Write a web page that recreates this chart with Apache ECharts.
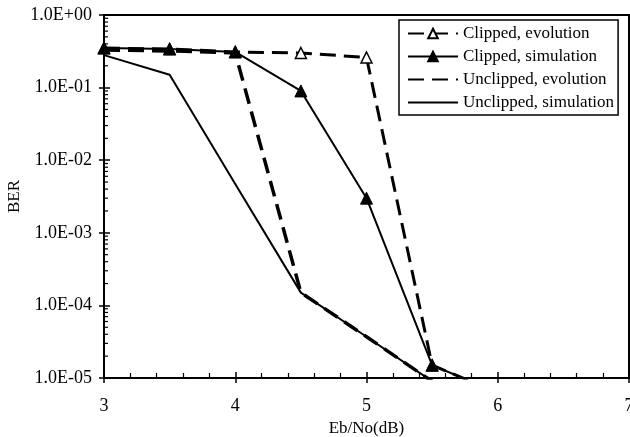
<!DOCTYPE html>
<html>
<head>
<meta charset="utf-8">
<script src="https://cdn.jsdelivr.net/npm/echarts@6/dist/echarts.min.js"></script>
<style>
  html, body { margin: 0; padding: 0; background: #fff; }
  #chart { width: 630px; height: 437px; }
</style>
</head>
<body>
<div id="chart"></div>
<script>
// Eb/No values (dB)
const ebno = [3, 3.5, 4, 4.5, 5, 5.5, 6];

// BER
const clippedEvolution   = [0.35, 0.34, 0.31, 0.30, 0.26, 1.5e-5, 6.3e-6];
const clippedSimulation  = [0.35, 0.34, 0.31, 0.09, 3.0e-3, 1.5e-5, 6.3e-6];
const unclippedEvolution = [0.33, 0.32, 0.30, 1.5e-4, 3.7e-5, 9e-6];
const unclippedSimulation = [0.28, 0.15, 4.7e-3, 1.5e-4, 3.7e-5, 9e-6];

const names = ['Clipped, evolution', 'Clipped, simulation', 'Unclipped, evolution', 'Unclipped, simulation'];

// minor log ticks on the BER axis
const decades = [-5, -4, -3, -2, -1];
const mantissas = [2, 3, 4, 5, 6, 7, 8, 9];

const font = 'Liberation Serif';

function pairs(ys) {
  return ys.map((y, i) => [ebno[i], y]);
}

function sciLabel(v) {
  const e = Math.round(Math.log10(v));
  const sign = e < 0 ? '-' : '+';
  const a = Math.abs(e);
  return '1.0E' + sign + (a < 10 ? '0' + a : a);
}

const minorVals = [];
decades.forEach(d => mantissas.forEach(m => minorVals.push([3, m * Math.pow(10, d)])));

const chart = echarts.init(document.getElementById('chart'));

const option = {
  animation: false,
  backgroundColor: '#fff',
  textStyle: { fontFamily: font, color: '#000' },
  grid: {
    left: 104, right: 1, top: 15, bottom: 59,
    outerBoundsMode: 'none', containLabel: false,
    show: true, borderColor: '#000', borderWidth: 2, backgroundColor: 'transparent'
  },
  legend: {
    data: names,
    orient: 'vertical',
    left: 399, top: 20,
    itemWidth: 50, itemHeight: 12, itemGap: 6,
    padding: [5, 4, 4, 8],
    borderColor: '#000', borderWidth: 1.5,
    backgroundColor: '#fff',
    textStyle: { fontFamily: font, fontSize: 17, color: '#000' }
  },
  xAxis: [{
    type: 'value', min: 3, max: 7, interval: 1,
    name: 'Eb/No(dB)', nameLocation: 'middle', nameGap: 41,
    nameTextStyle: { fontFamily: font, fontSize: 17, color: '#000' },
    axisLine: { lineStyle: { color: '#000', width: 2 } },
    axisTick: { inside: true, length: 6, lineStyle: { color: '#000', width: 1.5 } },
    minorTick: { show: true, splitNumber: 5, length: 5, lineStyle: { color: '#000', width: 1.2 } },
    axisLabel: { fontFamily: font, fontSize: 18, color: '#000', margin: 19 },
    splitLine: { show: false }
  }, {
    type: 'value', min: 3, max: 7, interval: 1, position: 'bottom',
    axisLine: { show: false },
    axisTick: { inside: false, length: 5, lineStyle: { color: '#000', width: 1.5 } },
    axisLabel: { show: false },
    splitLine: { show: false }
  }],
  yAxis: [{
    type: 'log', logBase: 10, min: 1e-5, max: 1,
    name: 'BER', nameLocation: 'middle', nameGap: 81, nameMoveOverlap: false,
    nameTextStyle: { fontFamily: font, fontSize: 17, color: '#000' },
    axisLine: { lineStyle: { color: '#000', width: 2 } },
    axisTick: { inside: false, length: 5, lineStyle: { color: '#000', width: 1.5 } },
    axisLabel: { fontFamily: font, fontSize: 18, color: '#000', margin: 12, formatter: sciLabel },
    splitLine: { show: false }
  }, {
    type: 'log', logBase: 10, min: 1e-5, max: 1, position: 'left',
    axisLine: { show: false },
    axisTick: { inside: true, length: 6, lineStyle: { color: '#000', width: 1.5 } },
    axisLabel: { show: false },
    splitLine: { show: false }
  }],
  series: [{
    name: names[0], type: 'line', data: pairs(clippedEvolution),
    symbol: 'triangle', symbolSize: 11, showAllSymbol: true,
    lineStyle: { color: '#000', width: 3, type: [16, 8] },
    itemStyle: { color: '#fff', borderColor: '#000', borderWidth: 1.5 },
    z: 3
  }, {
    name: names[1], type: 'line', data: pairs(clippedSimulation),
    symbol: 'triangle', symbolSize: 12,
    lineStyle: { color: '#000', width: 2 },
    itemStyle: { color: '#000', borderColor: '#000', borderWidth: 1 },
    z: 4
  }, {
    name: names[2], type: 'line', data: pairs(unclippedEvolution),
    symbol: 'none',
    lineStyle: { color: '#000', width: 3.5, type: [16, 8] },
    itemStyle: { color: 'rgba(0,0,0,0)', borderWidth: 0 },
    z: 2
  }, {
    name: names[3], type: 'line', data: pairs(unclippedSimulation),
    symbol: 'none',
    lineStyle: { color: '#000', width: 2 },
    itemStyle: { color: 'rgba(0,0,0,0)', borderWidth: 0 },
    z: 2
  }, {
    type: 'custom', data: minorVals, silent: true, clip: false,
    encode: { x: 0, y: 1 },
    renderItem: (params, api) => {
      const p = api.coord([api.value(0), api.value(1)]);
      return {
        type: 'line',
        shape: { x1: p[0], y1: p[1], x2: p[0] + 4, y2: p[1] },
        style: { stroke: '#000', lineWidth: 1.2 }
      };
    },
    z: 5
  }]
};

chart.setOption(option);
</script>
</body>
</html>
